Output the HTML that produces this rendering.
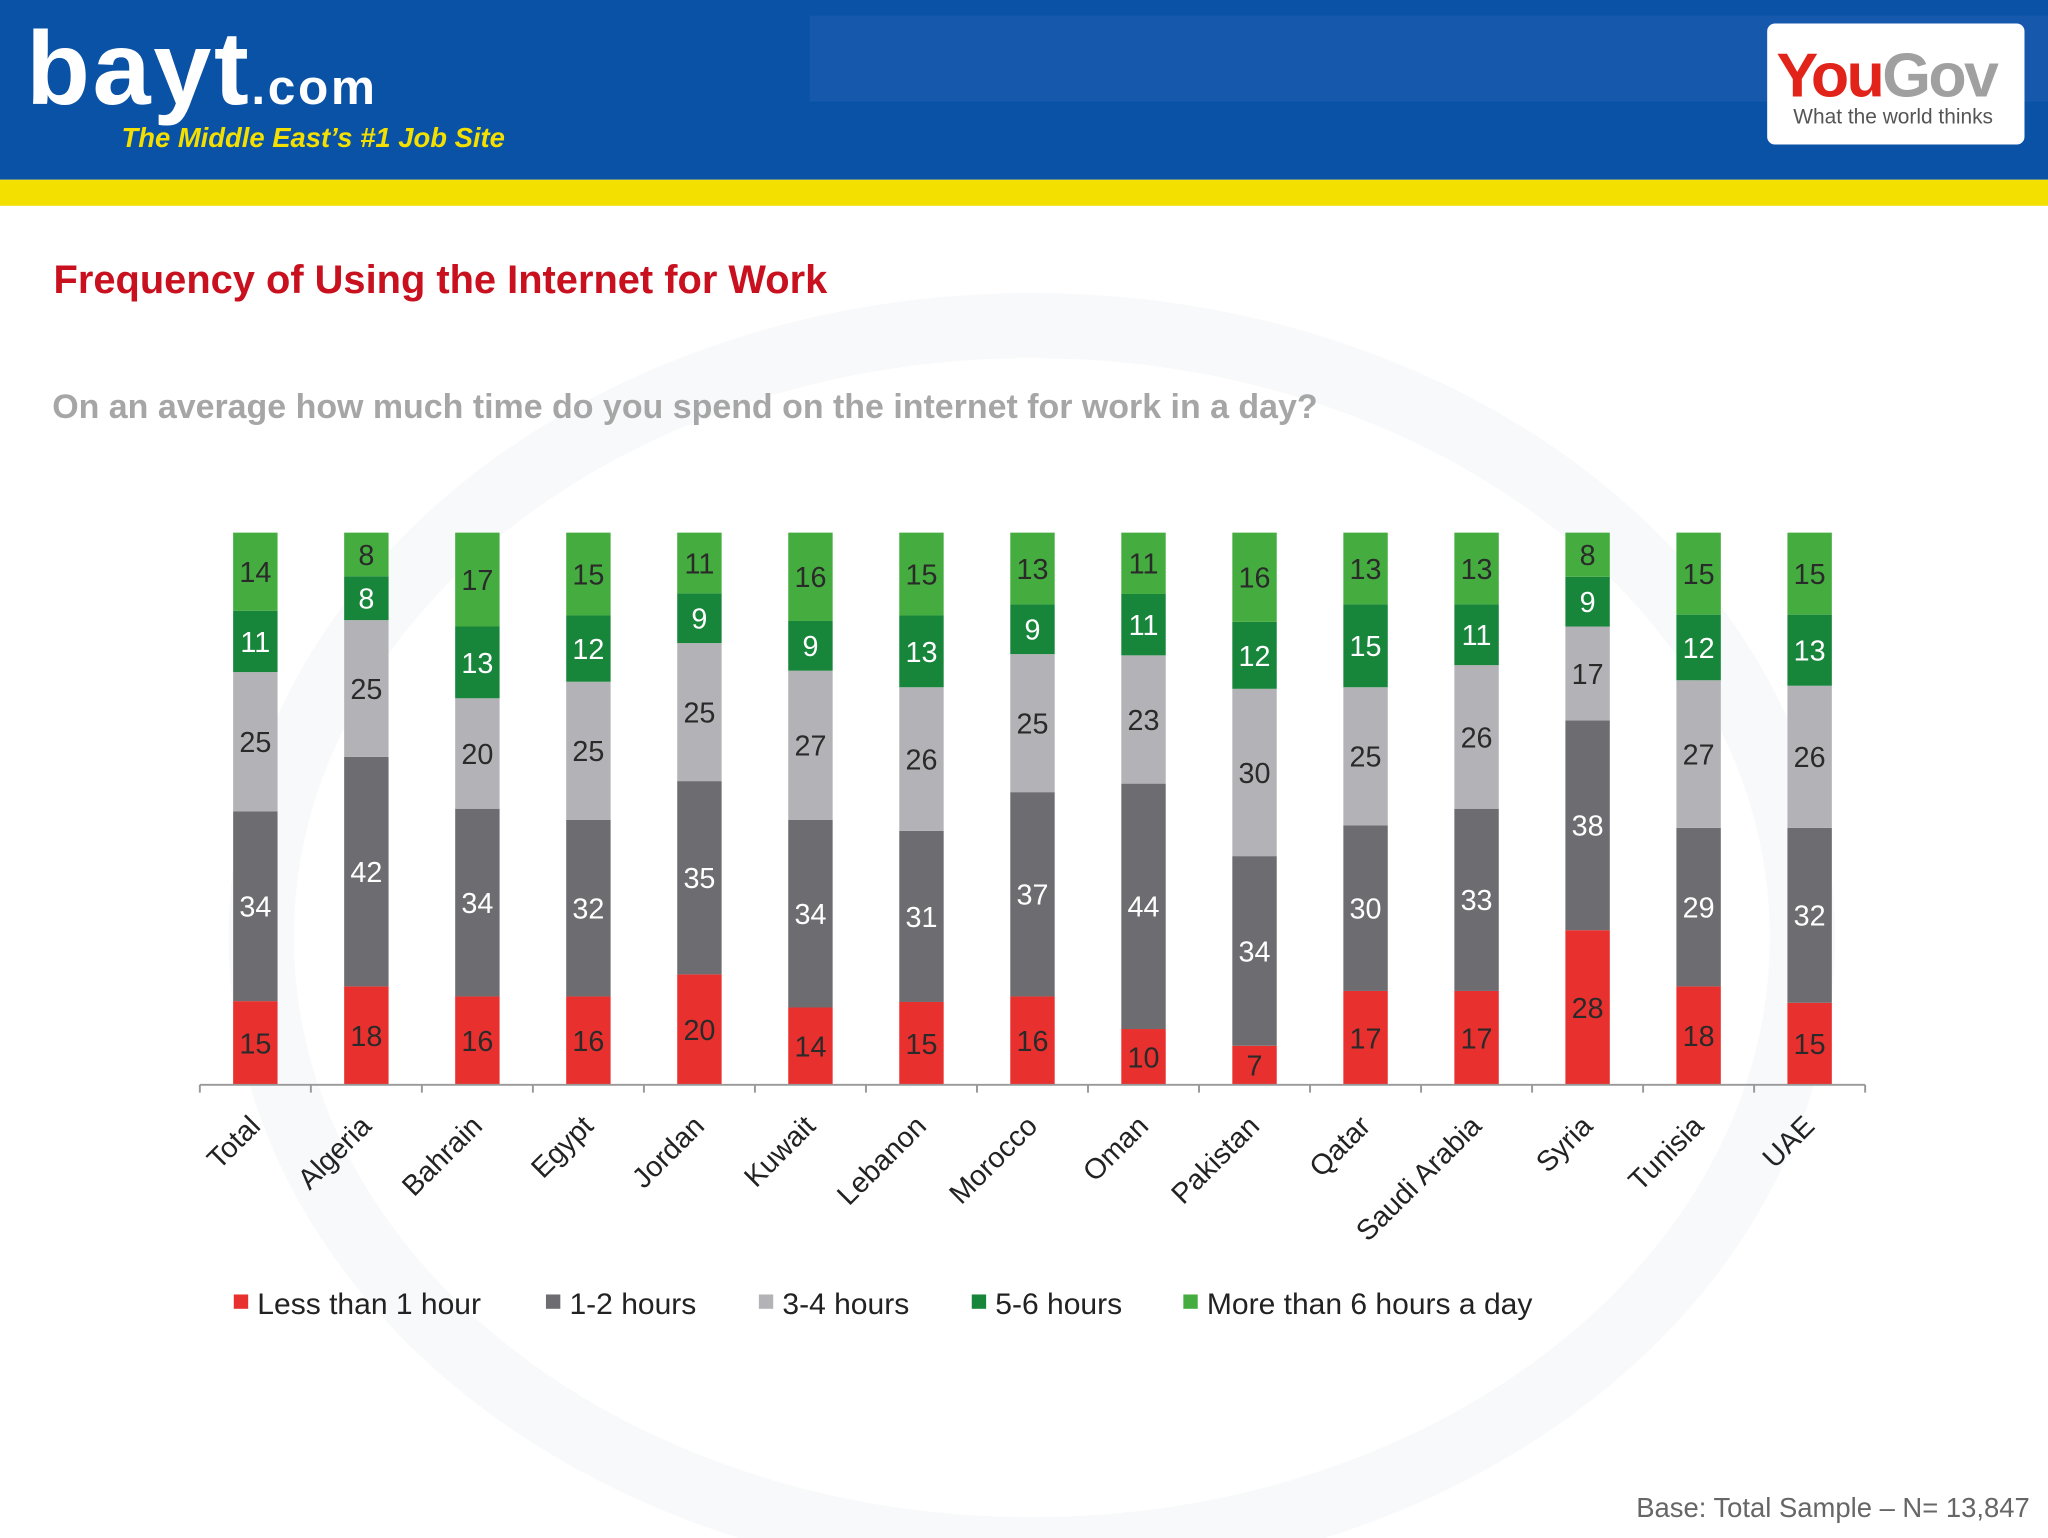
<!DOCTYPE html>
<html><head><meta charset="utf-8"><style>
html,body{margin:0;padding:0;background:#fff;}
svg{display:block;font-family:"Liberation Sans",Arial,sans-serif;}
</style></head><body>
<svg id="chart" width="2048" height="1538" viewBox="0 0 1568 1181" preserveAspectRatio="none">
<rect x="0" y="0" width="1568" height="1181" fill="#fff"/>
<ellipse cx="790" cy="720" rx="590" ry="470" fill="none" stroke="#f8f9fa" stroke-width="50"/>
<rect x="0" y="0" width="1568" height="138" fill="#0a52a6"/>
<rect x="620" y="12" width="948" height="66" fill="#1e5fb0" opacity="0.6"/>
<rect x="0" y="138" width="1568" height="20" fill="#f3df00"/>
<text x="20" y="80" fill="#fff" font-size="80" font-weight="bold" letter-spacing="2">bayt<tspan font-size="38">.com</tspan></text>
<text x="93" y="113" fill="#f3df00" font-size="21" font-weight="bold" font-style="italic">The Middle East’s #1 Job Site</text>
<rect x="1353" y="18" width="197" height="93" rx="6" fill="#fff"/>
<text x="1360" y="74" font-size="48" font-weight="bold" letter-spacing="-2"><tspan fill="#e2231a">You</tspan><tspan fill="#a0a0a0">Gov</tspan></text>
<text x="1373" y="95" fill="#555" font-size="16">What the world thinks</text>
<text x="41" y="225" fill="#c8101e" font-size="30.5" font-weight="bold">Frequency of Using the Internet for Work</text>
<text x="40" y="321" fill="#a6a6a6" font-size="26" font-weight="bold">On an average how much time do you spend on the internet for work in a day?</text>
<g id="plot"></g>
<text x="1554" y="1165" fill="#666" font-size="21" text-anchor="end">Base: Total Sample – N= 13,847</text>
</svg>
<script>
const categories=["Total","Algeria","Bahrain","Egypt","Jordan","Kuwait","Lebanon","Morocco","Oman","Pakistan","Qatar","Saudi Arabia","Syria","Tunisia","UAE"];
const seriesNames=["Less than 1 hour","1-2 hours","3-4 hours","5-6 hours","More than 6 hours a day"];
const lessThan1=[15,18,16,16,20,14,15,16,10,7,17,17,28,18,15];
const hours1to2=[34,42,34,32,35,34,31,37,44,34,30,33,38,29,32];
const hours3to4=[25,25,20,25,25,27,26,25,23,30,25,26,17,27,26];
const hours5to6=[11,8,13,12,9,9,13,9,11,12,15,11,9,12,13];
const moreThan6=[14,8,17,15,11,16,15,13,11,16,13,13,8,15,15];
const series=[lessThan1,hours1to2,hours3to4,hours5to6,moreThan6];
const colors=["#e8302e","#6d6d71","#b3b3b7","#17853a","#45ad3f"];
const labelColors=["#2a2a2a","#fff","#2a2a2a","#fff","#2a2a2a"];
const NS="http://www.w3.org/2000/svg";
const plotG=document.getElementById('plot');
const X0=153,STEP=85,BASEY=833,TOPY=409,BW=34;
function xC(i){return X0+STEP*i+STEP/2;}
function yS(frac){return BASEY-frac*(BASEY-TOPY);}
function mk(t,a){const e=document.createElementNS(NS,t);for(const k in a)e.setAttribute(k,a[k]);plotG.appendChild(e);return e;}
categories.forEach((c,i)=>{
  const tot=series.reduce((s,a)=>s+a[i],0);
  let cum=0;
  series.forEach((arr,s)=>{
    const v=arr[i];
    const y1=yS(cum/tot),y2=yS((cum+v)/tot);
    const r=mk('rect',{x:xC(i)-BW/2,y:y2,width:BW,height:y1-y2,fill:colors[s]});
    
    
    const t=mk('text',{x:xC(i),y:(y1+y2)/2+8,'text-anchor':'middle','font-size':22,fill:labelColors[s]});
    t.textContent=v;
    
    
    cum+=v;
  });
  const lx=xC(i)+5,ly=866;
  const ct=mk('text',{x:lx,y:ly,'text-anchor':'end','font-size':22,fill:'#222',transform:`rotate(-45 ${lx} ${ly})`});
  ct.textContent=c;
  
  
});
const ax=mk('line',{x1:X0,y1:BASEY,x2:X0+STEP*categories.length,y2:BASEY,stroke:'#999','stroke-width':1.5});


for(let k=0;k<=categories.length;k++){
  const tk=mk('line',{x1:X0+STEP*k,y1:BASEY,x2:X0+STEP*k,y2:BASEY+6,stroke:'#999','stroke-width':1.5});
  
  
}
const legX=[179,418,581,744,906];
seriesNames.forEach((n,s)=>{
  const sw=mk('rect',{x:legX[s],y:994,width:11,height:11,fill:colors[s]});
  
  
  const lt=mk('text',{x:legX[s]+18,y:1009,'font-size':23,fill:'#222'});
  lt.textContent=n;
  
  
});
</script>
</body></html>
